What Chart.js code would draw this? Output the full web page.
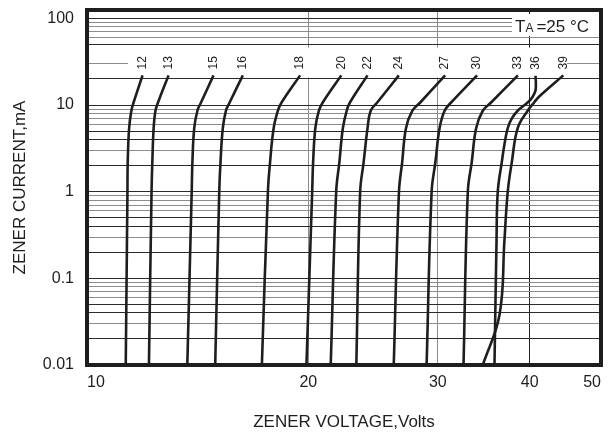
<!DOCTYPE html>
<html>
<head>
<meta charset="utf-8">
<script src="https://cdn.jsdelivr.net/npm/chart.js@4.4.1/dist/chart.umd.min.js"></script>
<style>
  html, body { margin: 0; padding: 0; background: #fff; }
</style>
</head>
<body>
<canvas id="zenerChart" width="609" height="437"></canvas>
<script>
// =============================
// Zener characteristics
// =============================
const zenerTypes = ['12', '13', '15', '16', '18', '20', '22', '24', '27', '30', '33', '36', '39'];

// current levels (mA) used for the 12V..33V curves
const currentLevels = [0.01, 1, 2.2, 5.4, 8.6, 10.7, 22];
const volts12 = [11.29, 11.35, 11.36, 11.41, 11.49, 11.57, 11.90];
const volts13 = [12.14, 12.24, 12.27, 12.32, 12.39, 12.49, 12.91];
const volts15 = [13.69, 13.88, 13.91, 13.99, 14.13, 14.29, 14.86];
const volts16 = [14.94, 15.13, 15.19, 15.30, 15.45, 15.63, 16.29];
const volts18 = [17.29, 17.62, 17.74, 17.94, 18.18, 18.39, 19.49];
const volts20 = [19.88, 20.24, 20.30, 20.44, 20.67, 20.92, 22.17];
const volts22 = [21.45, 21.82, 22.04, 22.28, 22.55, 22.78, 24.07];
const volts24 = [23.24, 23.52, 23.78, 24.07, 24.31, 24.81, 26.55];
const volts27 = [26.13, 26.56, 26.83, 27.15, 27.70, 28.39, 30.69];
const volts30 = [28.96, 29.42, 29.77, 30.16, 30.64, 31.27, 33.92];
const volts33 = [32.51, 32.95, 33.36, 33.82, 34.53, 35.44, 38.55];

// the 36V and 39V curves cross, so they get their own current levels
const current36 = [0.01, 0.27, 1, 2.2, 3.65, 5.4, 7.0, 8.6, 10.7, 12.4, 14.9, 21.8];
const volts36 = [35.82, 36.05, 36.19, 36.65, 36.98, 37.34, 37.82, 38.52, 39.74, 40.35, 40.74, 40.74];
const current39 = [0.01, 0.038, 0.27, 1, 2.2, 5.4, 8.6, 10.7, 12.4, 22];
const volts39 = [34.53, 36.39, 36.95, 37.34, 37.82, 38.52, 39.74, 40.55, 41.14, 44.44];

// axes
const xTickValues = [10, 20, 30, 40, 50];
const yTickValues = [0.01, 0.1, 1, 10, 100];
const yTickLabels = ['0.01', '0.1', '1', '10', '100'];
const yGridSteps = [1, 2, 3, 4, 5, 6, 7, 8, 9];
const yGridDecades = [0.01, 0.1, 1, 10];

const FONT = '"Liberation Sans", Arial, sans-serif';
const INK = '#1e1e1e';

const curveVolts = [volts12, volts13, volts15, volts16, volts18, volts20, volts22,
  volts24, volts27, volts30, volts33, volts36, volts39];
const curveCurrents = zenerTypes.map((t, i) =>
  t === '36' ? current36 : t === '39' ? current39 : currentLevels);

const yGrid = yGridDecades
  .flatMap(d => yGridSteps.map(s => +(d * s).toPrecision(3)))
  .concat([100]);

function pickLabel(value, values, labels) {
  const i = values.findIndex(t => Math.abs(t - value) / t < 1e-6);
  return i >= 0 ? labels[i] : '';
}

// =============================
// decoration: label strip, type numbers, T_A box, frame
// =============================
const decor = {
  id: 'decor',
  beforeDatasetsDraw(chart) {
    const { ctx, chartArea: a, scales: { y } } = chart;
    const top = y.getPixelForValue(46);
    const bot = y.getPixelForValue(20) - 1.5;
    ctx.save();
    ctx.fillStyle = '#fff';
    ctx.fillRect(a.left + 41, top, a.right - a.left - 75, bot - top);
    ctx.restore();
  },
  afterDatasetsDraw(chart) {
    const { ctx, chartArea: a } = chart;
    ctx.save();
    ctx.fillStyle = INK;
    ctx.font = '12px ' + FONT;
    ctx.textAlign = 'left';
    ctx.textBaseline = 'middle';
    chart.data.datasets.forEach((ds, i) => {
      const pts = chart.getDatasetMeta(i).data;
      const last = pts[pts.length - 1];
      ctx.save();
      ctx.translate(last.x, last.y - 6);
      ctx.rotate(-Math.PI / 2);
      ctx.fillText(ds.label, 0, 0);
      ctx.restore();
    });

    // T_A = 25 °C box
    ctx.fillStyle = '#fff';
    ctx.fillRect(a.right - 89, a.top + 4, 87, 22);
    ctx.fillStyle = INK;
    ctx.textBaseline = 'alphabetic';
    let x = a.right - 86;
    const base = a.top + 22;
    ctx.font = '17px ' + FONT;
    ctx.fillText('T', x, base);
    x += ctx.measureText('T').width;
    ctx.font = '12px ' + FONT;
    ctx.fillText('A', x, base);
    x += ctx.measureText('A').width + 3;
    ctx.font = '17px ' + FONT;
    ctx.fillText('=25 \u00B0C', x, base);
    ctx.restore();
  },
  afterDraw(chart) {
    const { ctx, chartArea: a } = chart;
    ctx.save();
    ctx.strokeStyle = INK;
    ctx.lineWidth = 4;
    ctx.strokeRect(a.left, a.top, a.right - a.left, a.bottom - a.top);
    ctx.restore();
  }
};

const ctx = document.getElementById('zenerChart');
new Chart(ctx, {
  type: 'line',
  data: {
    datasets: zenerTypes.map((t, i) => ({
      label: t,
      data: curveVolts[i].map((v, k) => ({ x: v, y: curveCurrents[i][k] })),
      borderColor: INK,
      borderWidth: 2.6,
      pointRadius: 0,
      tension: 0.4,
      fill: false
    }))
  },
  options: {
    responsive: false,
    animation: false,
    layout: { padding: { top: 10, right: 8, left: 0, bottom: 0 } },
    plugins: {
      legend: { display: false },
      tooltip: { enabled: false }
    },
    scales: {
      x: {
        type: 'logarithmic',
        min: 10,
        max: 50,
        afterBuildTicks: s => { s.ticks = xTickValues.map(v => ({ value: v })); },
        afterFit: s => { s.height = 72; s.paddingLeft = 0; s.paddingRight = 0; },
        ticks: {
          autoSkip: false,
          maxRotation: 0,
          align: 'inner',
          padding: 8,
          color: INK,
          font: { family: FONT, size: 16 },
          callback: v => String(v)
        },
        grid: {
          drawTicks: false,
          lineWidth: 1,
          color: c => (c.tick && c.tick.value === 40) ? '#222' : '#8c8c8c'
        },
        border: { display: false },
        title: {
          display: true,
          text: 'ZENER VOLTAGE,Volts',
          color: INK,
          font: { family: FONT, size: 17 },
          padding: { top: 0, bottom: 4 }
        }
      },
      y: {
        type: 'logarithmic',
        min: 0.01,
        max: 125,
        afterBuildTicks: s => { s.ticks = yGrid.map(v => ({ value: v })); },
        afterFit: s => { s.width = 87; s.paddingTop = 0; s.paddingBottom = 0; },
        ticks: {
          autoSkip: false,
          padding: 13,
          color: INK,
          font: { family: FONT, size: 16 },
          callback: v => pickLabel(v, yTickValues, yTickLabels)
        },
        grid: {
          drawTicks: false,
          lineWidth: 1,
          color: c => {
            if (!c.tick) return '#8c8c8c';
            const v = c.tick.value;
            if (v > 35 && v < 45) return 'rgba(0,0,0,0)';
            const sig = Math.round(v / Math.pow(10, Math.floor(Math.log10(v) + 1e-9)));
            return [1, 2, 4, 5].includes(sig) ? '#2a2a2a' : '#8c8c8c';
          }
        },
        border: { display: false },
        title: {
          display: true,
          text: 'ZENER CURRENT,mA',
          color: INK,
          font: { family: FONT, size: 17 },
          padding: { top: 10, bottom: 0 }
        }
      }
    }
  },
  plugins: [decor]
});
</script>
</body>
</html>
